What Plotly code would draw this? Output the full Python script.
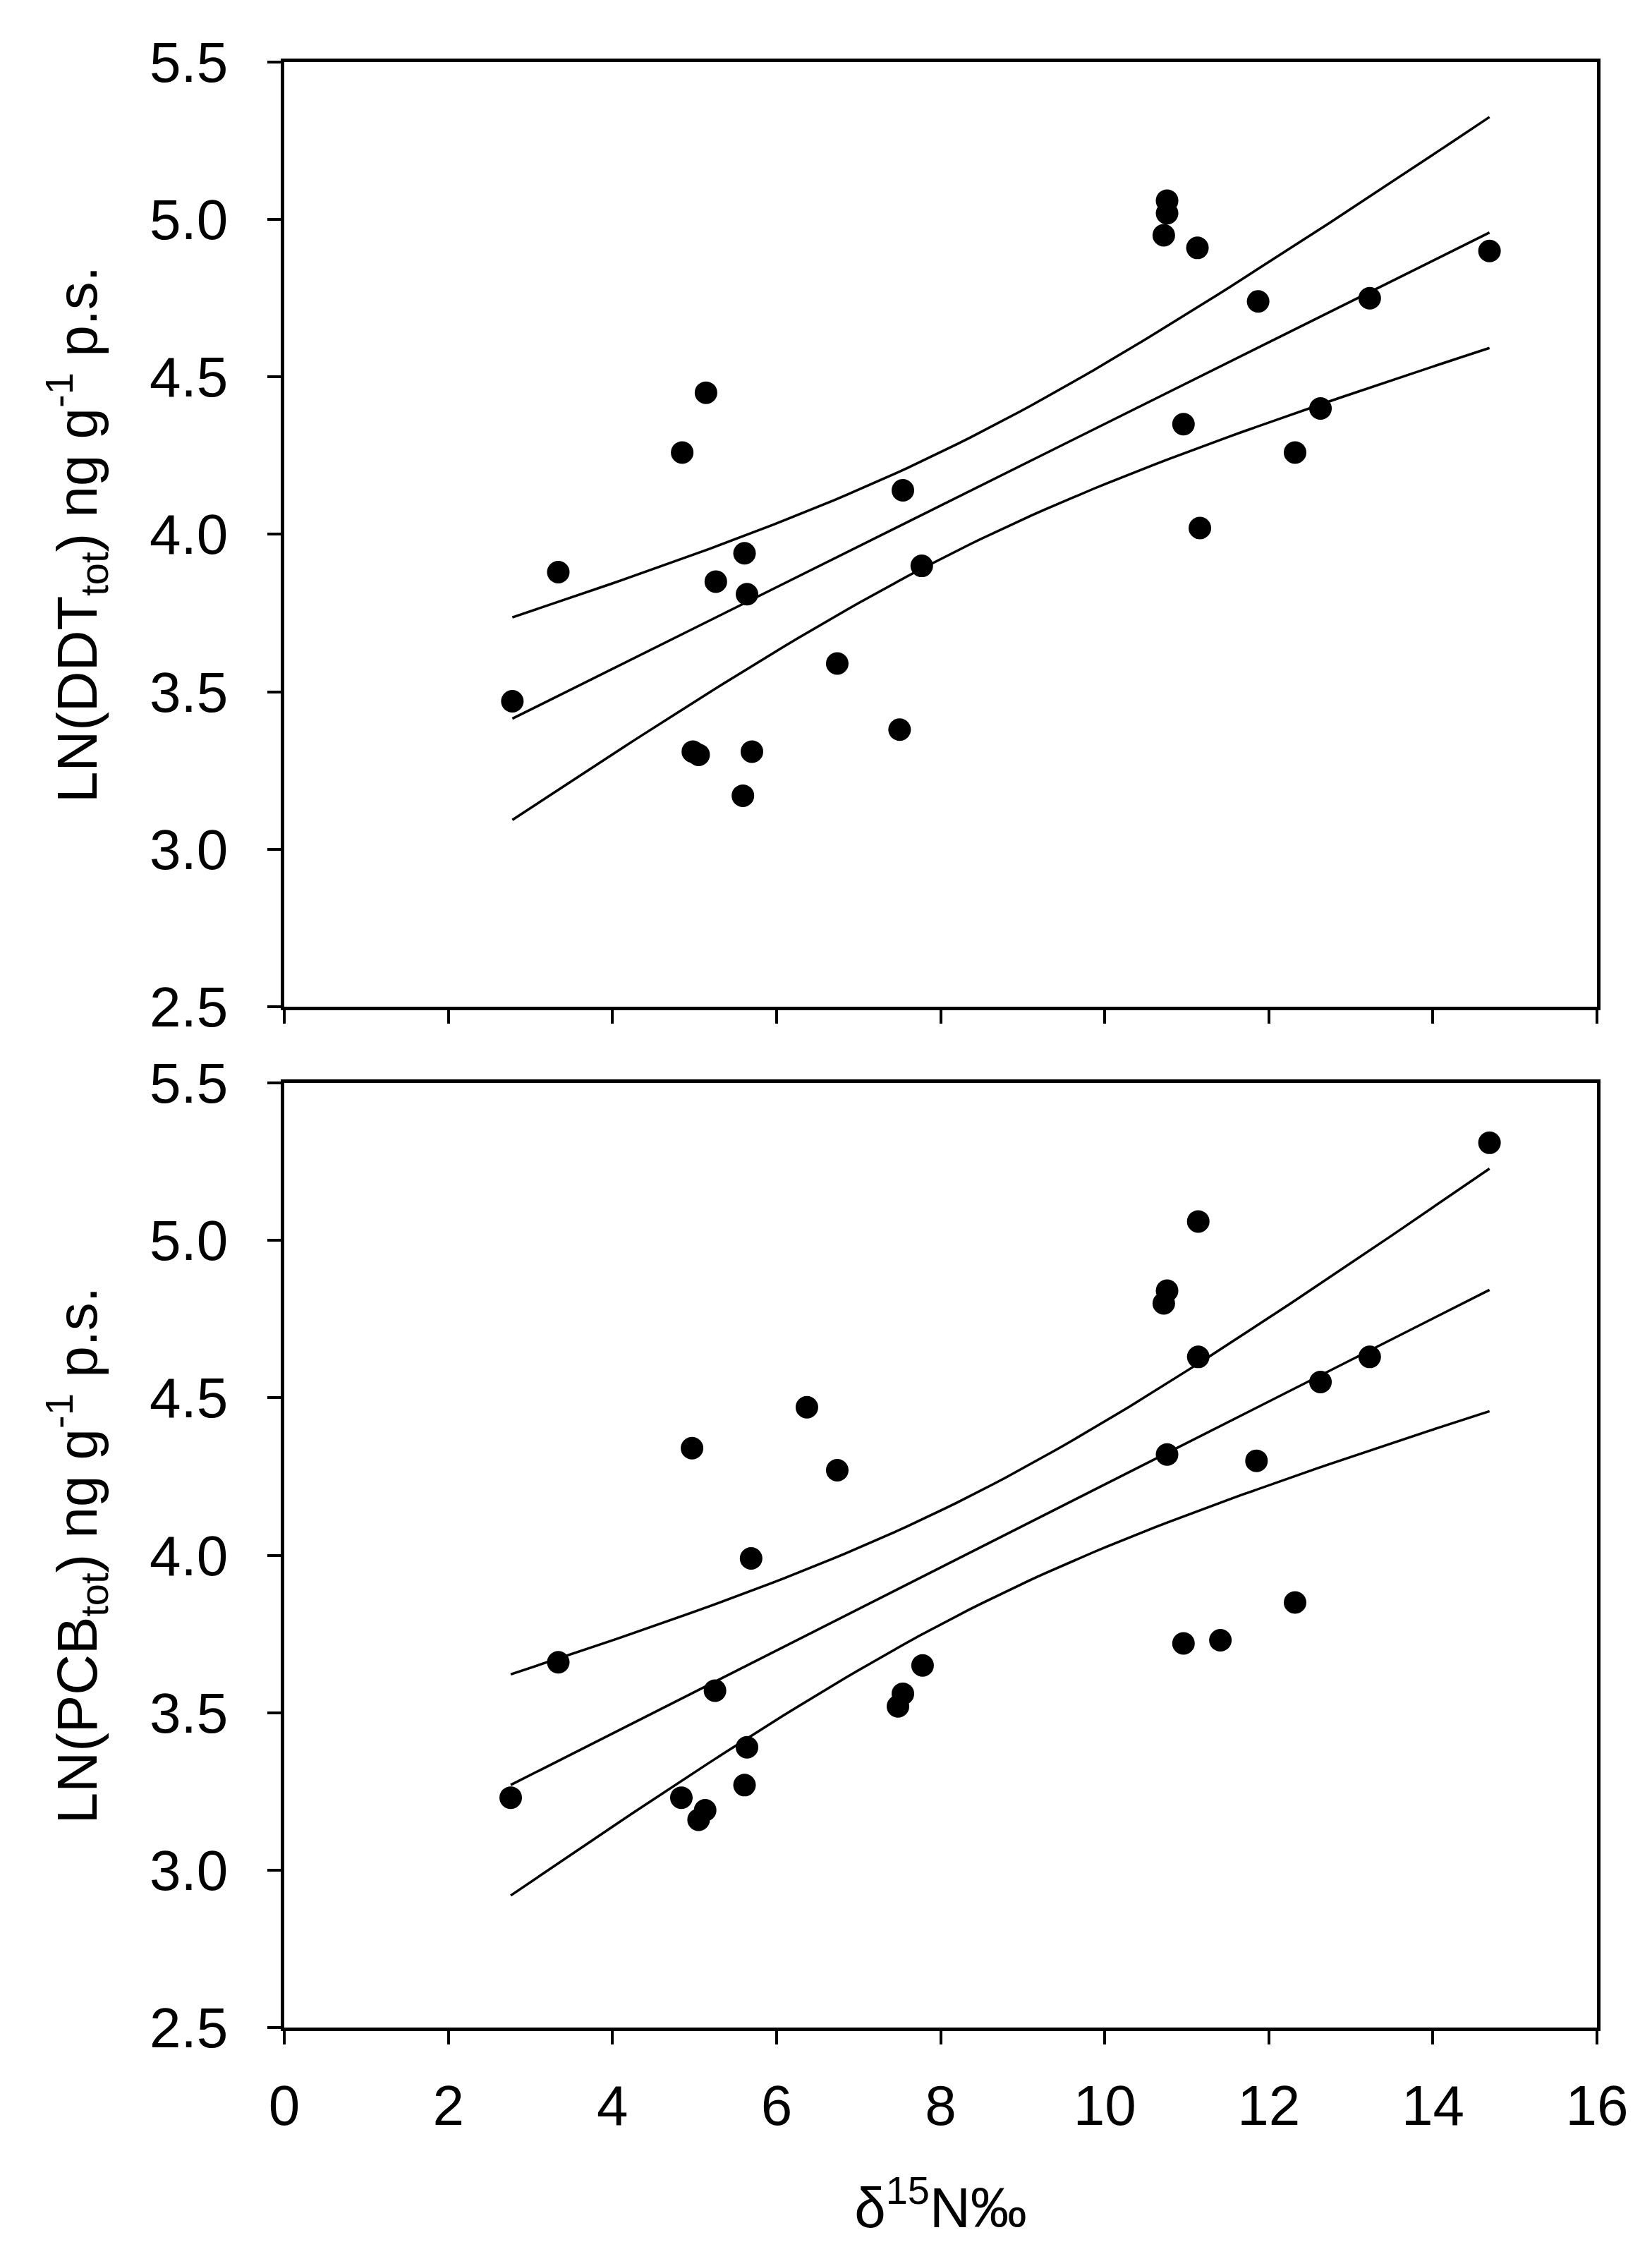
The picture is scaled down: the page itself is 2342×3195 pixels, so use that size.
import numpy as np
import plotly.graph_objects as go
from plotly.subplots import make_subplots

# delta 15N (per mil) and LN concentrations
d15n_ddt = [2.78, 3.34, 4.85, 5.14, 5.26, 5.61, 5.64, 4.98, 5.05, 5.70, 5.59, 6.74, 7.54,
            7.77, 7.50, 10.76, 10.76, 10.72, 11.13, 11.87, 13.23, 14.69, 10.96, 12.63, 12.32, 11.16]
ln_ddt = [3.47, 3.88, 4.26, 4.45, 3.85, 3.94, 3.81, 3.31, 3.30, 3.31, 3.17, 3.59, 4.14,
          3.90, 3.38, 5.06, 5.02, 4.95, 4.91, 4.74, 4.75, 4.90, 4.35, 4.40, 4.26, 4.02]

d15n_pcb = [3.34, 2.76, 4.97, 6.37, 6.74, 5.69, 5.25, 5.64, 5.61, 4.84, 5.13, 5.05, 7.78, 7.54,
            7.48, 14.69, 11.14, 10.76, 10.72, 11.14, 13.23, 12.63, 10.76, 11.85, 12.32, 10.96, 11.41]
ln_pcb = [3.66, 3.23, 4.34, 4.47, 4.27, 3.99, 3.57, 3.39, 3.27, 3.23, 3.19, 3.16, 3.65, 3.56,
          3.52, 5.31, 5.06, 4.84, 4.80, 4.63, 4.63, 4.55, 4.32, 4.30, 3.85, 3.72, 3.73]

x_ticks = list(range(0, 17, 2))
y_ticks = [2.5, 3.0, 3.5, 4.0, 4.5, 5.0, 5.5]
y_labels = ["%.1f" % v for v in y_ticks]

# two-sided 95% t values by degrees of freedom
T95 = {23: 2.0687, 24: 2.0639, 25: 2.0595, 26: 2.0555}


def fit_band(x, y):
    x = np.asarray(x, float)
    y = np.asarray(y, float)
    n = len(x)
    b, a = np.polyfit(x, y, 1)
    xs = np.linspace(x.min(), x.max(), 80)
    yhat = a + b * xs
    s = np.sqrt(np.sum((y - (a + b * x)) ** 2) / (n - 2))
    se = s * np.sqrt(1 / n + (xs - x.mean()) ** 2 / np.sum((x - x.mean()) ** 2))
    t = T95[n - 2]
    return xs, yhat, yhat - t * se, yhat + t * se


FONT = "Liberation Sans, Arial, sans-serif"

fig = make_subplots(rows=2, cols=1, vertical_spacing=0.0388)

for row, (xv, yv) in enumerate([(d15n_ddt, ln_ddt), (d15n_pcb, ln_pcb)], start=1):
    xs, yhat, lo, hi = fit_band(xv, yv)
    for curve in (hi, yhat, lo):
        fig.add_trace(go.Scatter(x=xs, y=curve, mode="lines",
                                 line=dict(color="black", width=3.5),
                                 showlegend=False, hoverinfo="skip"), row=row, col=1)
    fig.add_trace(go.Scatter(x=xv, y=yv, mode="markers",
                             marker=dict(color="black", size=32),
                             showlegend=False), row=row, col=1)

axis_style = dict(showline=True, linewidth=4.5, linecolor="black", mirror=True,
                  ticks="outside", ticklen=19, tickwidth=4, tickcolor="black",
                  showgrid=False, zeroline=False,
                  tickfont=dict(family=FONT, size=80, color="black"))

fig.update_xaxes(range=[0, 16], tickvals=x_ticks, ticklabelstandoff=18, **axis_style)
fig.update_yaxes(range=[2.5, 5.5], tickvals=y_ticks, ticktext=y_labels,
                 ticklabelstandoff=40, **axis_style)
fig.update_xaxes(showticklabels=False, row=1, col=1)
fig.update_xaxes(title=dict(text="δ<sup>15</sup>N‰", font=dict(family=FONT, size=80, color="black"),
                            standoff=75), row=2, col=1)
fig.update_yaxes(title=dict(text="LN(DDT<sub>tot</sub>) ng g<sup>-1</sup> p.s.",
                            font=dict(family=FONT, size=80, color="black"), standoff=50),
                 row=1, col=1)
fig.update_yaxes(title=dict(text="LN(PCB<sub>tot</sub>) ng g<sup>-1</sup> p.s.",
                            font=dict(family=FONT, size=80, color="black"), standoff=50),
                 row=2, col=1)

fig.update_layout(width=2342, height=3195,
                  margin=dict(l=395, r=86, t=80, b=329, autoexpand=False),
                  plot_bgcolor="white", paper_bgcolor="white")

fig.write_html("out.html")
